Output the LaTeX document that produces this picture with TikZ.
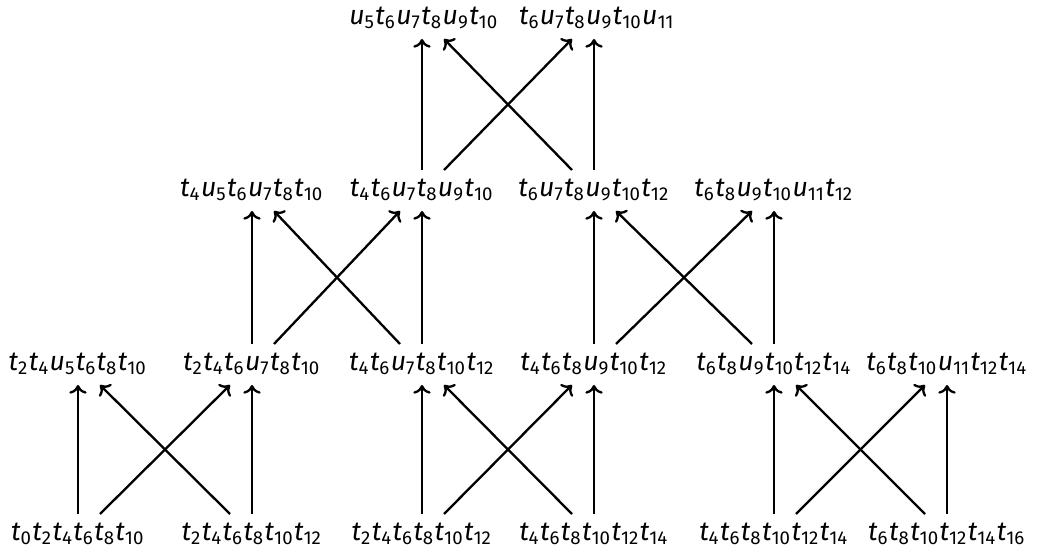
\documentclass[tikz,border=0pt]{standalone}
\usepackage{fontspec}
\setmainfont{Fira Sans}
\usetikzlibrary{arrows.meta,calc}
\newcommand{\tw}[1]{\textit{t}\textsubscript{#1}}
\newcommand{\uw}[1]{\textit{u}\textsubscript{#1}}
\tikzset{word/.style={inner sep=0pt},move/.style={-{To[length=3pt,width=6pt]},thick},
 every node/.style={font=\fontsize{9.2}{11}\selectfont}}

\begin{document}
\begin{tikzpicture}[x=0.345pt,y=0.345pt]
\useasboundingbox (0,0) rectangle (1037,555);
% bottom row
\node[word] (b1) at (78,21) {\tw0\tw2\tw4\tw6\tw8\tw{10}};
\node[word] (b2) at (252,21) {\tw2\tw4\tw6\tw8\tw{10}\tw{12}};
\node[word] (b3) at (422,21) {\tw2\tw4\tw6\tw8\tw{10}\tw{12}};
\node[word] (b4) at (594,21) {\tw4\tw6\tw8\tw{10}\tw{12}\tw{14}};
\node[word] (b5) at (774,21) {\tw4\tw6\tw8\tw{10}\tw{12}\tw{14}};
\node[word] (b6) at (947,21) {\tw6\tw8\tw{10}\tw{12}\tw{14}\tw{16}};
% third row
\node[word] (m1) at (78,191) {\tw2\tw4\uw5\tw6\tw8\tw{10}};
\node[word] (m2) at (252,191) {\tw2\tw4\tw6\uw7\tw8\tw{10}};
\node[word] (m3) at (422,191) {\tw4\tw6\uw7\tw8\tw{10}\tw{12}};
\node[word] (m4) at (594,191) {\tw4\tw6\tw8\uw9\tw{10}\tw{12}};
\node[word] (m5) at (774,191) {\tw6\tw8\uw9\tw{10}\tw{12}\tw{14}};
\node[word] (m6) at (947,191) {\tw6\tw8\tw{10}\uw{11}\tw{12}\tw{14}};
% second row
\node[word] (r1) at (252,365) {\tw4\uw5\tw6\uw7\tw8\tw{10}};
\node[word] (r2) at (422,365) {\tw4\tw6\uw7\tw8\uw9\tw{10}};
\node[word] (r3) at (594,365) {\tw6\uw7\tw8\uw9\tw{10}\tw{12}};
\node[word] (r4) at (774,365) {\tw6\tw8\uw9\tw{10}\uw{11}\tw{12}};
% top row
\node[word] (s1) at (424,537) {\uw5\tw6\uw7\tw8\uw9\tw{10}};
\node[word] (s2) at (597,537) {\tw6\uw7\tw8\uw9\tw{10}\uw{11}};
% bottom -> third
\draw[move] ($(b1)+(0,20)$) -- ($(m1)+(0,-21)$);
\draw[move] ($(b1)+(22,20)$) -- ($(m2)+(-22,-21)$);
\draw[move] ($(b2)+(-22,20)$) -- ($(m1)+(22,-21)$);
\draw[move] ($(b2)+(0,20)$) -- ($(m2)+(0,-21)$);
\draw[move] ($(b3)+(0,20)$) -- ($(m3)+(0,-21)$);
\draw[move] ($(b3)+(22,20)$) -- ($(m4)+(-22,-21)$);
\draw[move] ($(b4)+(-22,20)$) -- ($(m3)+(22,-21)$);
\draw[move] ($(b4)+(0,20)$) -- ($(m4)+(0,-21)$);
\draw[move] ($(b5)+(0,20)$) -- ($(m5)+(0,-21)$);
\draw[move] ($(b5)+(22,20)$) -- ($(m6)+(-22,-21)$);
\draw[move] ($(b6)+(-22,20)$) -- ($(m5)+(22,-21)$);
\draw[move] ($(b6)+(0,20)$) -- ($(m6)+(0,-21)$);
% third -> second
\draw[move] ($(m2)+(0,20)$) -- ($(r1)+(0,-21)$);
\draw[move] ($(m2)+(22,20)$) -- ($(r2)+(-22,-21)$);
\draw[move] ($(m3)+(-22,20)$) -- ($(r1)+(22,-21)$);
\draw[move] ($(m3)+(0,20)$) -- ($(r2)+(0,-21)$);
\draw[move] ($(m4)+(0,20)$) -- ($(r3)+(0,-21)$);
\draw[move] ($(m4)+(22,20)$) -- ($(r4)+(-22,-21)$);
\draw[move] ($(m5)+(-22,20)$) -- ($(r3)+(22,-21)$);
\draw[move] ($(m5)+(0,20)$) -- ($(r4)+(0,-21)$);
% second -> top
\draw[move] ($(r2)+(0,20)$) -- ($(r2|-s1)+(0,-21)$);
\draw[move] ($(r2)+(22,20)$) -- ($(r3|-s2)+(-22,-21)$);
\draw[move] ($(r3)+(-22,20)$) -- ($(r2|-s1)+(22,-21)$);
\draw[move] ($(r3)+(0,20)$) -- ($(r3|-s2)+(0,-21)$);
\end{tikzpicture}
\end{document}
